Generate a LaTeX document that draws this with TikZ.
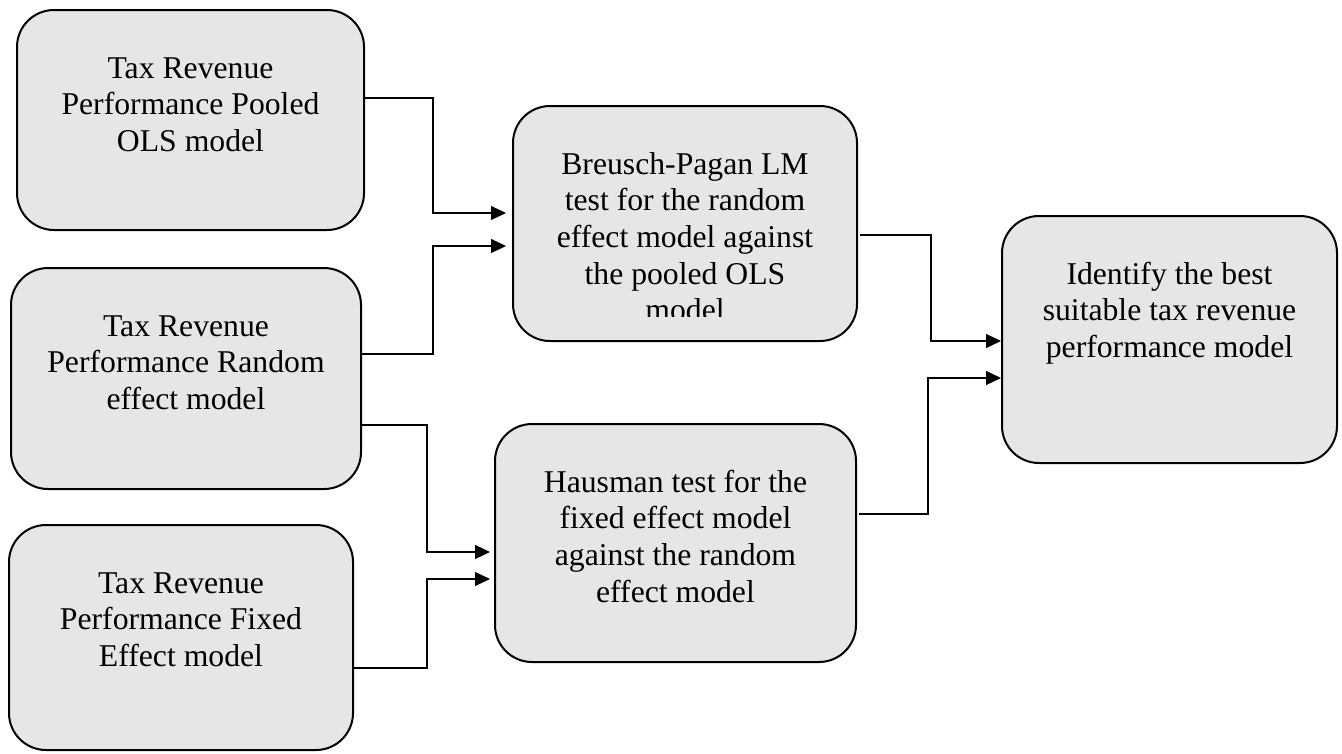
\documentclass[tikz,border=0pt]{standalone}
\usepackage{fontspec}
\setmainfont{Liberation Serif}
\usepackage{xcolor}
\usetikzlibrary{positioning,arrows.meta}
\definecolor{boxgray}{RGB}{230,230,230}

\begin{document}
\begin{tikzpicture}[
      x=1pt, y=-1pt,
      box/.style={rectangle, draw, line width=2pt, fill=boxgray, rounded corners=37pt, outer sep=0pt, inner sep=0pt},
      txt/.style={align=center, inner sep=0pt, anchor=base, font=\fontsize{31.7}{36.7}\selectfont},
      arrow/.style={-{Triangle[length=15pt,width=14pt]}, line width=1.2pt}
  ]
  \useasboundingbox (0,0) rectangle (1342,753);
  % Boxes
  \node[box, minimum width=347pt, minimum height=220pt] (pooled) at (190.5,120) {};
  \node[box, minimum width=350pt, minimum height=221pt, below=38pt of pooled, xshift=-4.5pt] (random) {};
  \node[box, minimum width=344pt, minimum height=225pt, below=36pt of random, xshift=-5pt] (fixed) {};
  \node[box, minimum width=344pt, minimum height=235pt] (bp) at (685,223.5) {};
  \node[box, minimum width=361pt, minimum height=238pt, below=83pt of bp, xshift=-9.5pt] (haus) {};
  \node[box, minimum width=335pt, minimum height=247pt] (ident) at (1169.5,339.5) {};
  % Texts (base = last line)
  \node[txt] (pooledtxt) at ([yshift=-141.4pt]pooled.north) {Tax Revenue\\Performance Pooled\\OLS model};
  \node[txt] (randomtxt) at ([yshift=-141.4pt]random.north) {Tax Revenue\\Performance Random\\effect model};
  \node[txt] (fixedtxt) at ([yshift=-141.4pt]fixed.north) {Tax Revenue\\Performance Fixed\\Effect model};
  \begin{scope}
    \clip (bp.north west) rectangle ([yshift=25pt]bp.south east);
    \node[txt] (bptxt) at ([yshift=-214.8pt]bp.north) {Breusch-Pagan LM\\test for the random\\effect model against\\the pooled OLS\\model};
  \end{scope}
  \node[txt] (haustxt) at ([yshift=-178.1pt]haus.north) {Hausman test for the\\fixed effect model\\against the random\\effect model};
  \node[txt] (identtxt) at ([yshift=-141.4pt]ident.north) {Identify the best\\suitable tax revenue\\performance model};
  % Arrows
  \draw[arrow, shorten >=7pt] ([yshift=22pt]pooled.east) -- ++(69,0) |- ([yshift=10.5pt]bp.west);
  \draw[arrow, shorten >=7pt] ([yshift=24.5pt]random.east) -- ++(72,0) |- ([yshift=-22.5pt]bp.west);
  \draw[arrow, shorten >=5pt] ([yshift=-46.5pt]random.east) -- ++(66,0) |- ([yshift=-9pt]haus.west);
  \draw[arrow, shorten >=5pt] ([yshift=-30.5pt]fixed.east) -- ++(74,0) |- ([yshift=-36pt]haus.west);
  \draw[arrow, shorten >=1pt] ([xshift=3pt, yshift=-11.5pt]bp.east) -- ++(71,0) |- ([yshift=-1.5pt]ident.west);
  \draw[arrow, shorten >=1pt] ([xshift=3pt, yshift=29pt]haus.east) -- ++(69,0) |- ([yshift=-38.5pt]ident.west);
\end{tikzpicture}
\end{document}
